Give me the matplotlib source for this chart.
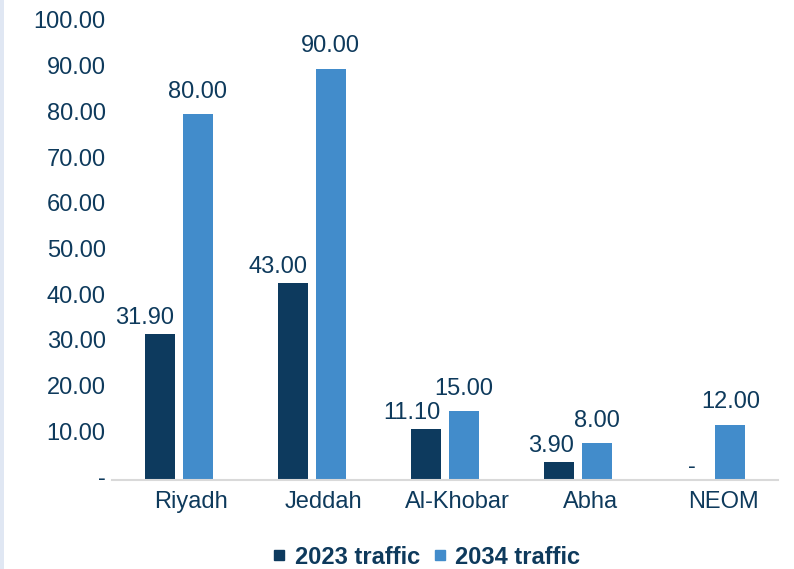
import matplotlib
matplotlib.use("Agg")
import matplotlib.pyplot as plt
import matplotlib.transforms as mtransforms
from matplotlib.lines import Line2D
from matplotlib.patches import Rectangle
import numpy as np

plt.rcParams["font.family"] = ["Liberation Sans", "DejaVu Sans"]

cities = ["Riyadh", "Jeddah", "Al-Khobar", "Abha", "NEOM"]
traffic_2023 = [31.90, 43.00, 11.10, 3.90, 0.00]
traffic_2034 = [80.00, 90.00, 15.00, 8.00, 12.00]
series_names = ["2023 traffic", "2034 traffic"]
y_ticks = [0, 10, 20, 30, 40, 50, 60, 70, 80, 90, 100]

TEXT = "#0e3a5c"
DARK = "#0d3a5e"
LIGHT = "#428ccb"
FS = 17


def fmt(v):
    return "-" if v == 0 else f"{v:.2f}"


fig = plt.figure(figsize=(7.94, 5.69), dpi=100)
fig.patches.append(Rectangle((0, 0), 4 / 794, 1, transform=fig.transFigure,
                             facecolor="#e0e7f3", edgecolor="none", zorder=0))
ax = fig.add_axes([112 / 794, 89 / 569, 666 / 794, 457 / 569])

x = np.arange(len(cities))
w = 0.225
off = 0.143
b1 = ax.bar(x - off, traffic_2023, w, color=DARK, zorder=2)
b2 = ax.bar(x + off, traffic_2034, w, color=LIGHT, zorder=2)

ax.set_xlim(-0.5, len(cities) - 0.5)
ax.set_ylim(0, 100)
ax.set_yticks(y_ticks)
ax.set_yticklabels([fmt(v) for v in y_ticks])
ax.set_xticks(x)
ax.set_xticklabels(cities)
ax.tick_params(axis="both", length=0, labelsize=FS, colors=TEXT)
ax.tick_params(axis="y", pad=4.5)
ax.tick_params(axis="x", pad=8)

xshift = mtransforms.ScaledTranslation(12 / 100, 0, fig.dpi_scale_trans)
for lbl in ax.get_xticklabels():
    lbl.set_transform(lbl.get_transform() + xshift)
yshift = mtransforms.ScaledTranslation(0, 3 / 100, fig.dpi_scale_trans)
for lbl in ax.get_yticklabels():
    lbl.set_transform(lbl.get_transform() + yshift)

for s in ["top", "right", "left"]:
    ax.spines[s].set_visible(False)
ax.spines["bottom"].set_color("#d9d9d9")
ax.spines["bottom"].set_linewidth(1.5)

# value labels
for xi, v in zip(x, traffic_2023):
    if v == 0:
        ax.annotate(fmt(v), (xi - off, v), xytext=(0, 5), textcoords="offset points",
                    ha="center", va="baseline", fontsize=FS, color=TEXT)
    else:
        ax.annotate(fmt(v), (xi - off + w / 2, v), xytext=(0, 7.5),
                    textcoords="offset points", ha="right", va="baseline",
                    fontsize=FS, color=TEXT)
for xi, v in zip(x, traffic_2034):
    ax.annotate(fmt(v), (xi + off, v), xytext=(0, 12), textcoords="offset points",
                ha="center", va="baseline", fontsize=FS, color=TEXT)

handles = [Line2D([], [], marker="s", linestyle="none", markersize=6.5,
                  markerfacecolor=c, markeredgecolor=c) for c in (DARK, LIGHT)]
leg = fig.legend(handles, series_names, loc="center", bbox_to_anchor=(427 / 794, 1 - 557 / 569),
                 ncol=2, frameon=False, handlelength=0.5, handletextpad=0.4,
                 columnspacing=0.6, borderpad=0, prop={"weight": "bold", "size": FS})
for t in leg.get_texts():
    t.set_color(TEXT)

fig.savefig("out.png", dpi=100)
